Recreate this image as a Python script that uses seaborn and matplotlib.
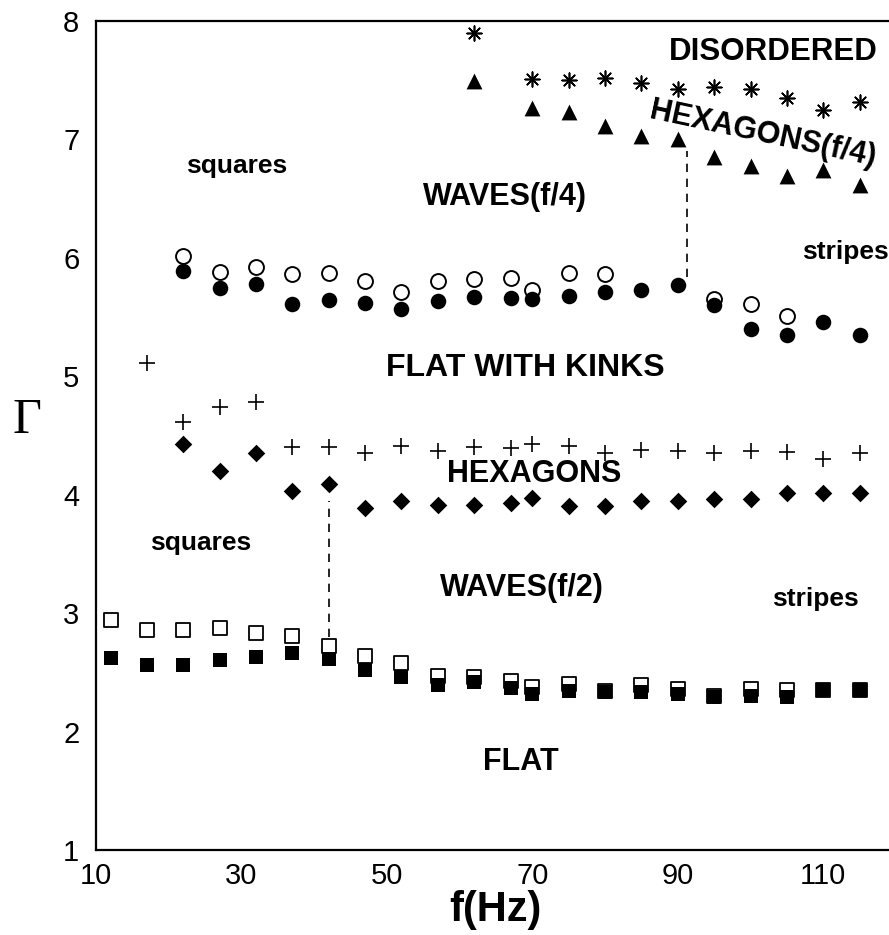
import matplotlib
matplotlib.use("Agg")
import matplotlib.pyplot as plt
import seaborn as sns
import pandas as pd
from matplotlib.ticker import MultipleLocator

sns.set_theme(style="white")
plt.rcParams['font.family'] = ['Liberation Sans', 'DejaVu Sans']

# ---------------- data ----------------
f_all = [12, 17, 22, 27, 32, 37, 42, 47, 52, 57, 62, 67, 70, 75, 80, 85, 90, 95, 100, 105, 110, 115]

sq_filled = [2.62, 2.56, 2.56, 2.60, 2.63, 2.66, 2.61, 2.52, 2.46, 2.39, 2.42, 2.37, 2.32, 2.34,
             2.33, 2.33, 2.32, 2.29, 2.30, 2.29, 2.35, 2.35]
sq_open = [2.94, 2.86, 2.86, 2.87, 2.83, 2.81, 2.72, 2.64, 2.58, 2.47, 2.46, 2.43, 2.38, 2.40,
           2.34, 2.39, 2.36, 2.30, 2.36, 2.35, 2.35, 2.35]

f_dia = [22, 27, 32, 37, 42, 47, 52, 57, 62, 67, 70, 75, 80, 85, 90, 95, 100, 105, 110, 115]
diamond = [4.43, 4.20, 4.35, 4.03, 4.09, 3.89, 3.95, 3.91, 3.91, 3.93, 3.97, 3.90, 3.90, 3.95,
           3.95, 3.96, 3.96, 4.01, 4.01, 4.01]

f_plus = [17, 22, 27, 32, 37, 42, 47, 52, 57, 62, 67, 70, 75, 80, 85, 90, 95, 100, 105, 110, 115]
plus = [5.11, 4.61, 4.74, 4.78, 4.40, 4.40, 4.35, 4.41, 4.37, 4.40, 4.39, 4.43, 4.41, 4.35,
        4.38, 4.37, 4.35, 4.37, 4.36, 4.30, 4.35]

f_circ = [22, 27, 32, 37, 42, 47, 52, 57, 62, 67, 70, 75, 80, 85, 90, 95, 100, 105, 110, 115]
circ_filled = [5.89, 5.74, 5.78, 5.61, 5.64, 5.62, 5.57, 5.63, 5.67, 5.66, 5.65, 5.68, 5.71,
               5.73, 5.77, 5.60, 5.40, 5.35, 5.46, 5.35]
f_circ_open = [22, 27, 32, 37, 42, 47, 52, 57, 62, 67, 70, 75, 80, 95, 100, 105]
circ_open = [6.01, 5.88, 5.92, 5.86, 5.87, 5.80, 5.71, 5.80, 5.82, 5.83, 5.73, 5.87, 5.86,
             5.65, 5.61, 5.51]

f_top = [62, 70, 75, 80, 85, 90, 95, 100, 105, 110, 115]
triangle = [7.49, 7.26, 7.23, 7.11, 7.03, 7.00, 6.85, 6.77, 6.69, 6.74, 6.61]
asterisk = [7.90, 7.51, 7.50, 7.52, 7.47, 7.42, 7.44, 7.42, 7.35, 7.25, 7.31]

# dashed boundaries: (x, y_bottom, y_top)
dash_lines = [(42, 2.80, 3.95), (91.3, 5.84, 6.90)]

labels = [
    ("DISORDERED", 103.1, 7.74, 22.5, 'bold', 0),
    ("HEXAGONS(f/4)", 101.7, 7.04, 22, 'bold', -12),
    ("squares", 29.3, 6.77, 19, 'bold', 0),
    ("WAVES(f/4)", 66.2, 6.51, 22, 'bold', 0),
    ("stripes", 113.0, 6.05, 19, 'bold', 0),
    ("FLAT WITH KINKS", 69.0, 5.07, 23, 'bold', 0),
    ("HEXAGONS", 70.3, 4.17, 22, 'bold', 0),
    ("squares", 24.4, 3.59, 19, 'bold', 0),
    ("WAVES(f/2)", 68.5, 3.21, 22, 'bold', 0),
    ("stripes", 108.9, 3.12, 19, 'bold', 0),
    ("FLAT", 68.4, 1.74, 22, 'bold', 0),
]

xticks = [10, 30, 50, 70, 90, 110]
yticks = [1, 2, 3, 4, 5, 6, 7, 8]

# ---------------- figure ----------------
W, H = 889, 935
fig = plt.figure(figsize=(W / 100, H / 100), dpi=100)
x0, x1, ytop, ybot = 96, 896, 20.7, 850
ax = fig.add_axes([x0 / W, 1 - ybot / H, (x1 - x0) / W, (ybot - ytop) / H])

k = dict(ax=ax, color='black', legend=False, zorder=3)

sns.scatterplot(x=f_all, y=sq_open, marker='s', s=90, facecolor='white',
                edgecolor='black', linewidth=1.3, **k)
sns.scatterplot(x=f_all, y=sq_filled, marker='s', s=100, edgecolor='black', linewidth=0, **k)
sns.scatterplot(x=f_dia, y=diamond, marker='D', s=80, edgecolor='black', linewidth=0, **k)
sns.scatterplot(x=f_plus, y=plus, marker='+', s=130, linewidth=1.2, **k)
sns.scatterplot(x=f_circ_open, y=circ_open, marker='o', s=115, facecolor='white',
                edgecolor='black', linewidth=1.4, **k)
sns.scatterplot(x=f_circ, y=circ_filled, marker='o', s=125, edgecolor='black', linewidth=0, **k)
sns.scatterplot(x=f_top, y=triangle, marker='^', s=130, edgecolor='black', linewidth=0, **k)
sns.scatterplot(x=f_top, y=asterisk, marker=(8, 2, 0), s=110, linewidth=1.2, **k)

for xv, yb, yt in dash_lines:
    ax.plot([xv, xv], [yb, yt], color='black', lw=1.2, ls=(0, (5, 4)), zorder=2)

for txt, xv, yv, fs, wt, rot in labels:
    ax.text(xv, yv, txt, fontsize=fs, fontweight=wt, rotation=rot,
            ha='center', va='center', color='black', rotation_mode='anchor')

ax.set_xlim(10, 120)
ax.set_ylim(1, 8)
ax.set_xticks(xticks)
ax.set_yticks(yticks)
ax.xaxis.set_minor_locator(MultipleLocator(10))
ax.yaxis.set_minor_locator(MultipleLocator(0.5))
ax.tick_params(axis='both', which='major', direction='in', length=10, width=1.2,
               labelsize=21, colors='black', pad=6)
ax.tick_params(axis='both', which='minor', direction='in', length=5, width=1.0)
ax.tick_params(axis='y', which='major', pad=12)
ax.tick_params(axis='x', which='major', pad=9)

for side in ['left', 'bottom', 'top']:
    ax.spines[side].set_color('black')
    ax.spines[side].set_linewidth(1.6)
ax.spines['right'].set_visible(False)

ax.set_xlabel('f(Hz)', fontsize=30, fontweight='bold', color='black')
ax.xaxis.set_label_coords((495 - x0) / (x1 - x0), (ybot - 921) / (ybot - ytop))
ax.xaxis.label.set_va('baseline')
ax.set_ylabel('Γ', fontsize=36, rotation=0, family=['Liberation Serif', 'DejaVu Serif'],
              color='black')
ax.yaxis.set_label_coords((27 - x0) / (x1 - x0), (ybot - 421) / (ybot - ytop))
ax.yaxis.label.set_va('center')
ax.yaxis.label.set_ha('center')

fig.savefig('out.png', dpi=100, facecolor='white')
